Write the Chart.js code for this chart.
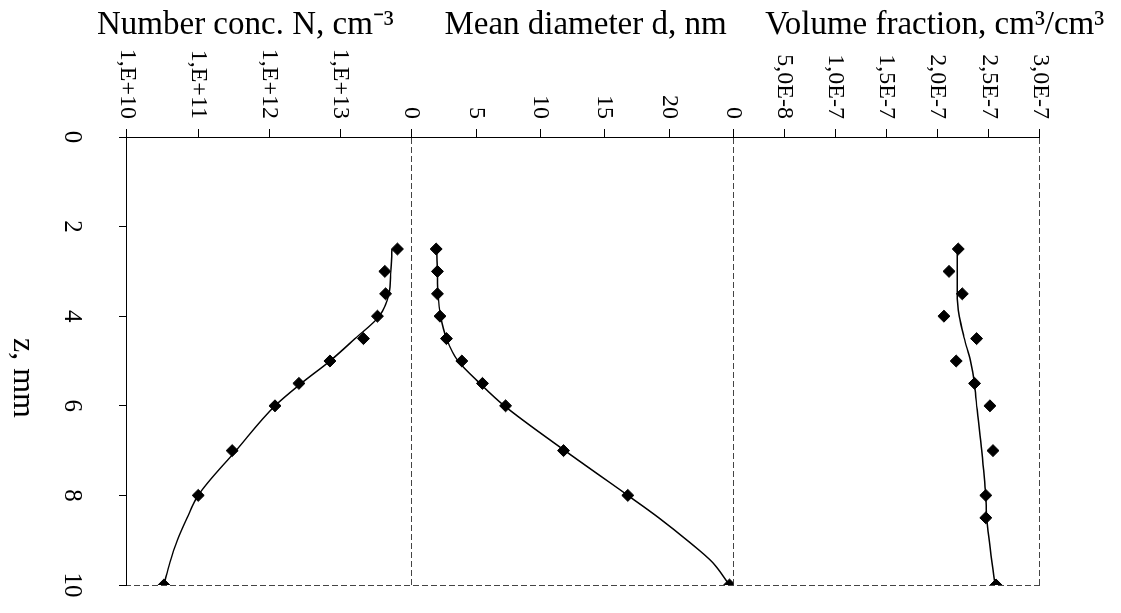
<!DOCTYPE html>
<html>
<head>
<meta charset="utf-8">
<script src="https://cdn.jsdelivr.net/npm/chart.js@4"></script>
<style>
  html, body { margin: 0; padding: 0; overflow: hidden; background: #fff; width: 1121px; height: 613px; }
  /* the figure is printed turned a quarter turn, so draw it upright and rotate the box */
  #wrap { position: absolute; left: 0; top: 0; width: 613px; height: 1121px;
          transform-origin: 0 0; transform: translate(1121px, 0) rotate(90deg); }
</style>
</head>
<body>
<div id="wrap"><canvas id="profiles" width="613" height="1121"></canvas></div>
<script>
// measured points
var zNd = [2.5, 3, 3.5, 4, 4.5, 5, 5.5, 6, 7, 8, 10];
var nPts = [6.3e13, 4.2e13, 4.3e13, 3.3e13, 2.1e13, 7.1e12, 2.6e12, 1.2e12, 3.0e11, 1.0e11, 3.3e10];
var dPts = [1.9, 2.0, 2.0, 2.2, 2.7, 3.9, 5.5, 7.3, 11.8, 16.8, 24.7];
var zV = [2.5, 3, 3.5, 4, 4.5, 5, 5.5, 6, 7, 8, 8.5, 10];
var vPts = [2.20e-7, 2.11e-7, 2.24e-7, 2.06e-7, 2.38e-7, 2.18e-7, 2.36e-7, 2.51e-7, 2.54e-7, 2.47e-7, 2.47e-7, 2.57e-7];

// model curves
var zFitN = [2.5, 3, 3.5, 4, 4.5, 5, 5.5, 6, 7, 8, 8.5, 9, 9.5, 10];
var nFit = [5.3e13, 5.1e13, 4.8e13, 3.5e13, 1.6e13, 7.1e12, 2.8e12, 1.2e12, 3.4e11, 1.0e11, 7.0e10, 5.1e10, 4.0e10, 3.3e10];
var zFitD = [2.5, 3, 3.5, 4, 4.5, 5, 5.5, 6, 7, 8, 8.5, 9, 9.5, 10];
var dFit = [1.95, 2.0, 2.05, 2.25, 2.7, 3.6, 5.3, 7.2, 11.9, 16.8, 19.2, 21.4, 23.4, 24.7];
var zFitV = [2.5, 3, 3.5, 4, 4.5, 5, 5.5, 6, 7, 8, 8.5, 10];
var vFit = [2.19e-7, 2.19e-7, 2.19e-7, 2.21e-7, 2.26e-7, 2.32e-7, 2.36e-7, 2.38e-7, 2.43e-7, 2.47e-7, 2.48e-7, 2.56e-7];

// ticks
var zTicks = [0, 2, 4, 6, 8, 10];
var nTicks = [1e10, 1e11, 1e12, 1e13, 1e14];
var nTickLabels = ['1,E+10', '1,E+11', '1,E+12', '1,E+13', ''];
var dTicks = [0, 5, 10, 15, 20, 25];
var dTickLabels = ['0', '5', '10', '15', '20', ''];
var vTicks = [0, 5e-8, 1e-7, 1.5e-7, 2e-7, 2.5e-7, 3e-7];
var vTickLabels = ['0', '5,0E-8', '1,0E-7', '1,5E-7', '2,0E-7', '2,5E-7', '3,0E-7'];

var titles = {
  yN: 'Number conc. N, cm\u207B\u00B3',
  yD: 'Mean diameter d, nm',
  yV: 'Volume fraction, cm\u00B3/cm\u00B3'
};
var titleShift = { yN: 24, yD: -13, yV: -48 };
var zTitle = 'z, mm';

Chart.defaults.font.family = '"Liberation Serif", "Times New Roman", serif';
Chart.defaults.color = '#000';

function pairs(xs, ys) {
  return xs.map(function (x, i) { return { x: x, y: ys[i] }; });
}

function panelAxis(type, min, max, ticks, labels, weight, lines) {
  return {
    type: type,
    position: 'left',
    stack: 'panels',
    stackWeight: weight,
    min: min,
    max: max,
    afterBuildTicks: function (s) { s.ticks = ticks.map(function (v) { return { value: v }; }); },
    afterFit: function (s) { s.width = 137; },
    ticks: {
      autoSkip: false,
      padding: 10,
      font: { size: 24 },
      callback: function (v, i) { return labels[i]; }
    },
    grid: {
      color: function (c) { return c.tick && lines.indexOf(c.tick.value) >= 0 ? '#444' : 'rgba(0,0,0,0)'; },
      tickColor: '#000',
      tickLength: 8
    },
    border: { color: '#000', width: 1, dash: [6, 3] }
  };
}

// axis titles sit a little off-centre in the original, so place them by hand
var titlePlugin = {
  id: 'panelTitles',
  afterDraw: function (chart) {
    var ctx = chart.ctx;
    ctx.save();
    ctx.fillStyle = '#000';
    ctx.textAlign = 'center';
    ctx.textBaseline = 'middle';
    ctx.font = '33px "Liberation Serif"';
    for (var id in titles) {
      var s = chart.scales[id];
      ctx.save();
      ctx.translate(25.5, (s.top + s.bottom) / 2 + titleShift[id]);
      ctx.rotate(-Math.PI / 2);
      ctx.fillText(titles[id], 0, 0);
      ctx.restore();
    }
    var x = chart.scales.x;
    ctx.font = '32px "Liberation Serif"';
    ctx.fillText(zTitle, (x.left + x.right) / 2 + 17, 1099);
    ctx.restore();
  }
};

var lineStyle = { showLine: true, borderColor: '#000', borderWidth: 1.5, pointRadius: 0, cubicInterpolationMode: 'monotone' };
var markStyle = { pointStyle: 'rectRot', pointRadius: 6, pointBackgroundColor: '#000', pointBorderColor: '#000', pointBorderWidth: 1 };

new Chart(document.getElementById('profiles'), {
  type: 'scatter',
  data: {
    datasets: [
      Object.assign({ label: 'N model', data: pairs(zFitN, nFit), yAxisID: 'yN' }, lineStyle),
      Object.assign({ label: 'N', data: pairs(zNd, nPts), yAxisID: 'yN' }, markStyle),
      Object.assign({ label: 'd model', data: pairs(zFitD, dFit), yAxisID: 'yD' }, lineStyle),
      Object.assign({ label: 'd', data: pairs(zNd, dPts), yAxisID: 'yD' }, markStyle),
      Object.assign({ label: 'fv model', data: pairs(zFitV, vFit), yAxisID: 'yV' }, lineStyle),
      Object.assign({ label: 'fv', data: pairs(zV, vPts), yAxisID: 'yV' }, markStyle)
    ]
  },
  options: {
    responsive: false,
    animation: false,
    layout: { padding: { top: 81, right: 28, left: 0, bottom: 0 } },
    plugins: { legend: { display: false }, tooltip: { enabled: false } },
    scales: {
      x: {
        type: 'linear',
        position: 'bottom',
        min: 0,
        max: 10,
        afterBuildTicks: function (s) { s.ticks = zTicks.map(function (v) { return { value: v }; }); },
        afterFit: function (s) { s.height = 127; s.paddingLeft = 0; s.paddingRight = 0; },
        ticks: { font: { size: 25 }, padding: 32, maxRotation: 0 },
        grid: {
          color: function (c) { return c.tick && c.tick.value === 10 ? '#444' : 'rgba(0,0,0,0)'; },
          tickColor: '#000',
          tickLength: 8
        },
        border: { color: '#000', width: 1, dash: [6, 3] }
      },
      yN: panelAxis('logarithmic', 1e10, 1e14, nTicks, nTickLabels, 285, []),
      yD: panelAxis('linear', 0, 25, dTicks, dTickLabels, 322, [0]),
      yV: panelAxis('linear', 0, 3e-7, vTicks, vTickLabels, 307, [0, 3e-7])
    }
  },
  plugins: [titlePlugin]
});
</script>
</body>
</html>
